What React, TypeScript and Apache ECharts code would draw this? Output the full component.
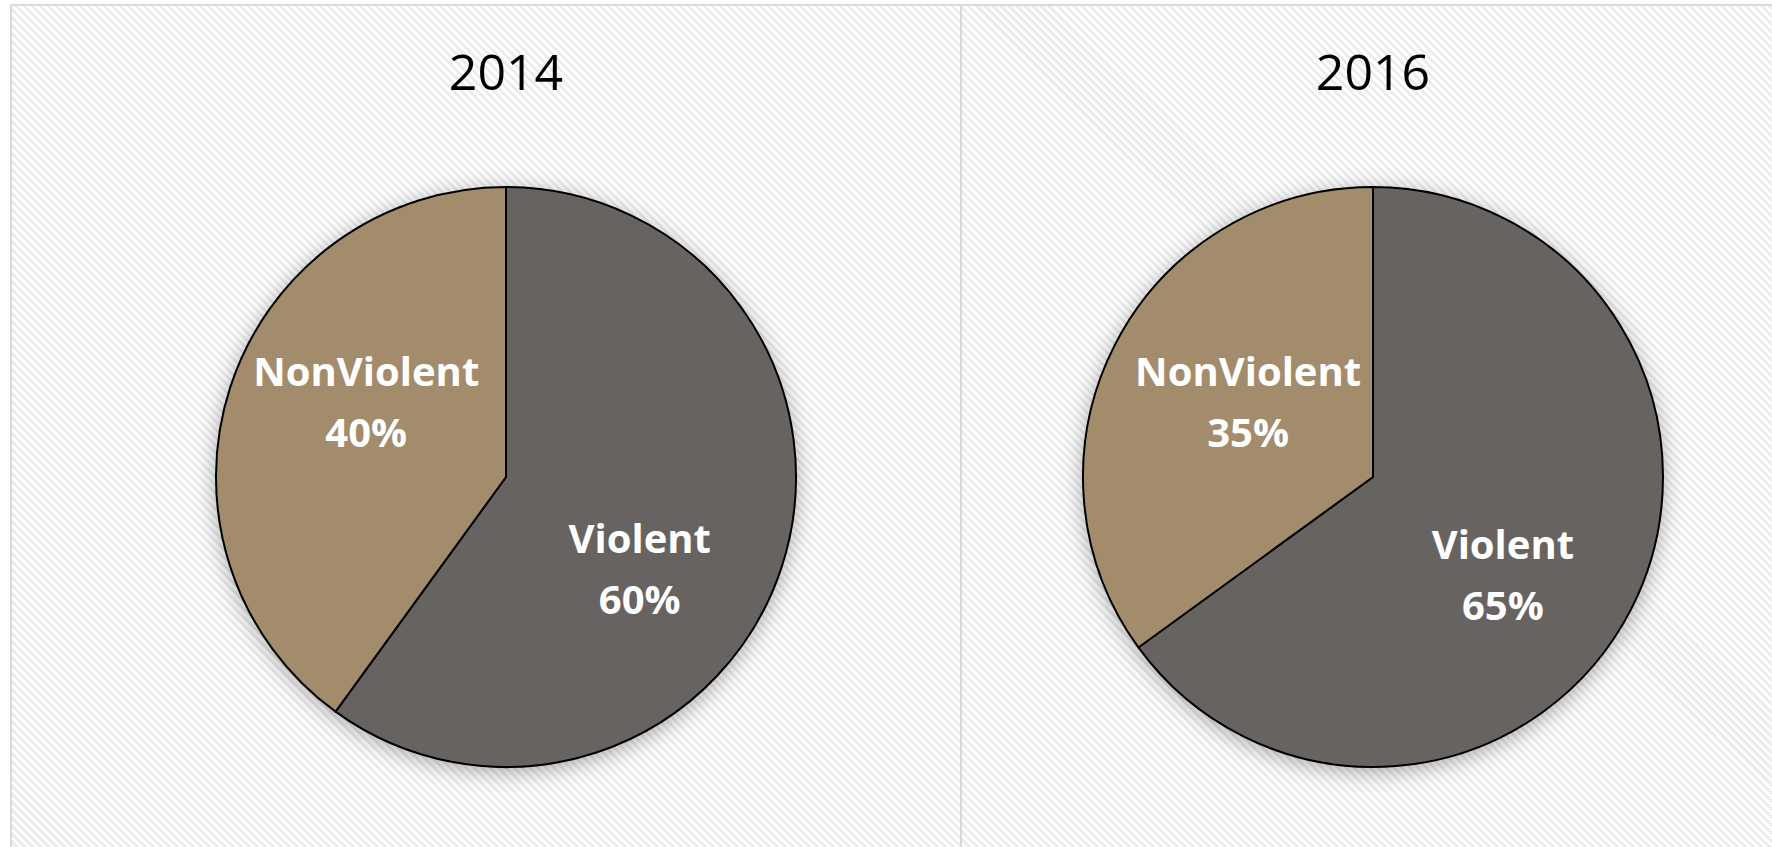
import React, { useEffect, useRef } from "react";
import * as echarts from "echarts";

const years = ["2014", "2016"];
const categories = ["Violent", "NonViolent"];
const values2014 = [60, 40];
const values2016 = [65, 35];
const seriesValues = [values2014, values2016];

const COLORS = ["#676360", "#A38C6B"];
const CENTERS: [number, number][] = [
  [506, 477],
  [1373, 477],
];
const RADIUS = 290;
// label nudges (Excel best-fit placement) per [pie][slice]
const LABEL_NUDGE: [number, number][][] = [
  [
    [-7, 45],
    [1, -30],
  ],
  [
    [-2, 30],
    [7, -9],
  ],
];

export default function App() {
  const ref = useRef<HTMLDivElement>(null);
  useEffect(() => {
    if (!ref.current) return;
    const chart = echarts.init(ref.current, undefined, { renderer: "svg" });
    const series: any[] = [];
    years.forEach((y, i) => {
      // shadow backing disc
      series.push({
        type: "pie",
        silent: true,
        center: CENTERS[i],
        radius: RADIUS,
        z: 1,
        label: { show: false },
        labelLine: { show: false },
        itemStyle: {
          color: "#cccccc",
          shadowBlur: 22,
          shadowColor: "rgba(0,0,0,0.35)",
          shadowOffsetY: 4,
        },
        data: [{ name: "shadow", value: 1 }],
      });
      series.push({
        type: "pie",
        name: y,
        center: CENTERS[i],
        radius: RADIUS,
        startAngle: 90,
        clockwise: true,
        z: 2,
        itemStyle: { borderColor: "#000000", borderWidth: 2 },
        label: {
          show: true,
          position: "inside",
          color: "#ffffff",
          fontFamily: "Open Sans",
          fontWeight: "bold",
          fontSize: 40,
          lineHeight: 61,
          align: "center",
          formatter: (p: any) => `${p.name}\n${p.percent}%`,
        },
        labelLine: { show: false },
        labelLayout: (p: any) => {
          const n = LABEL_NUDGE[i][p.dataIndex];
          return { dx: n[0], dy: n[1] };
        },
        emphasis: { disabled: true },
        data: categories.map((c, k) => ({
          name: c,
          value: seriesValues[i][k],
          itemStyle: { color: COLORS[k] },
        })),
      });
    });
    chart.setOption({
      animation: false,
      backgroundColor: "transparent",
      title: years.map((y, i) => ({
        text: y,
        left: CENTERS[i][0],
        top: 46,
        padding: 0,
        textAlign: "center",
        textStyle: {
          fontFamily: "Open Sans",
          fontWeight: "normal",
          fontSize: 50,
          color: "#000000",
        },
      })),
      graphic: [
        {
          type: "rect",
          silent: true,
          shape: { x: 11, y: 5, width: 950, height: 900 },
          style: { fill: "none", stroke: "#d9d9d9", lineWidth: 2 },
        },
        {
          type: "rect",
          silent: true,
          shape: { x: 961, y: 5, width: 900, height: 900 },
          style: { fill: "none", stroke: "#d9d9d9", lineWidth: 2 },
        },
      ],
      series,
    });
    return () => chart.dispose();
  }, []);
  return (
    <div
      style={{
        position: "absolute",
        left: 0,
        top: 0,
        width: 1772,
        height: 847,
        background: "#ffffff",
        overflow: "hidden",
      }}
    >
      <div
        style={{
          position: "absolute",
          left: 11,
          top: 5,
          width: 1761,
          height: 842,
          backgroundImage:
            "repeating-linear-gradient(45deg, #ffffff 0px, #ffffff 2.8px, #ececec 2.8px, #ececec 5.66px)",
        }}
      />
      <div
        ref={ref}
        style={{ position: "absolute", left: 0, top: 0, width: 1772, height: 847 }}
      />
    </div>
  );
}
